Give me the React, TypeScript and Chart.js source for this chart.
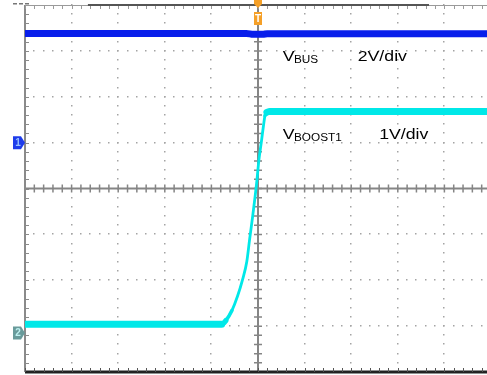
import React, { useEffect, useRef } from 'react';
import { Chart, registerables } from 'chart.js';

Chart.register(...registerables);

// Time axis: divisions relative to the trigger point (10 divisions across the screen)
const busTime = [-5, -0.25, -0.1, 0.1, 0.2, 5.2];
const busVolts = [4.76, 4.76, 4.72, 4.72, 4.75, 4.75];

const boostTime = [-5, -0.78, -0.69, -0.56, -0.44, -0.33, -0.24, -0.18, -0.11, -0.07, -0.03, 0.02, 0.07, 0.12, 0.15, 0.19, 0.27, 5.2];
const boostVolts = [0.19, 0.19, 0.27, 0.49, 0.8, 1.17, 1.56, 2.04, 2.58, 2.91, 3.26, 3.78, 4.15, 4.54, 4.74, 4.81, 4.83, 4.83];

// Channel settings (volts per division, ground marker position in divisions)
const BUS_VOLTS_PER_DIV = 2;
const BUS_OFFSET_DIV = 1;
const BOOST_VOLTS_PER_DIV = 1;
const BOOST_OFFSET_DIV = -3.15;

const X_DIVS = [-5, -4, -3, -2, -1, 0, 1, 2, 3, 4, 5];
const Y_DIVS = [-4, -3, -2, -1, 0, 1, 2, 3, 4];

const BUS_COLOR = 'rgb(8, 30, 235)';
const BOOST_COLOR = 'rgb(0, 232, 232)';
const TEXT_FONT = '"Liberation Sans", Arial, sans-serif';
const STRETCH = 1.18;

const toDiv = (times: number[], volts: number[], vpd: number, off: number) =>
  times.map((t, i) => ({ x: t, y: volts[i] / vpd + off }));

const graticule = {
  id: 'graticule',
  beforeDatasetsDraw(chart: any) {
    const { ctx, chartArea: a, scales } = chart;
    const x = scales.x;
    const y = scales.y;
    ctx.save();

    // dotted division lines, one dot every fifth of a division
    ctx.fillStyle = '#a4a4a4';
    for (const d of X_DIVS) {
      if (d === -5 || d === 0 || d === 5) continue;
      const px = Math.round(x.getPixelForValue(d));
      for (let s = -20; s <= 20; s++) {
        const py = Math.round(y.getPixelForValue(s / 5));
        ctx.fillRect(px - 1, py - 1, 1.5, 1.5);
      }
    }
    for (const d of Y_DIVS) {
      if (d === -4 || d === 0 || d === 4) continue;
      const py = Math.round(y.getPixelForValue(d));
      for (let s = -25; s <= 25; s++) {
        const px = Math.round(x.getPixelForValue(s / 5));
        ctx.fillRect(px - 1, py - 1, 1.5, 1.5);
      }
    }

    // centre cross with minor ticks
    const cx = x.getPixelForValue(0);
    const cy = y.getPixelForValue(0);
    ctx.strokeStyle = '#858585';
    ctx.lineWidth = 2;
    ctx.beginPath();
    ctx.moveTo(a.left, cy);
    ctx.lineTo(chart.width, cy);
    ctx.moveTo(cx, a.top);
    ctx.lineTo(cx, a.bottom);
    ctx.stroke();
    ctx.lineWidth = 1.5;
    ctx.beginPath();
    for (let s = -25; s <= 25; s++) {
      const px = x.getPixelForValue(s / 5);
      ctx.moveTo(px, cy - 4);
      ctx.lineTo(px, cy + 4);
    }
    for (let s = -20; s <= 20; s++) {
      const py = y.getPixelForValue(s / 5);
      ctx.moveTo(cx - 4, py);
      ctx.lineTo(cx + 4, py);
    }
    ctx.stroke();

    // left frame edge with ticks
    ctx.strokeStyle = '#8a8a8a';
    ctx.lineWidth = 2;
    ctx.beginPath();
    ctx.moveTo(a.left, a.top);
    ctx.lineTo(a.left, a.bottom);
    ctx.stroke();
    ctx.lineWidth = 1;
    ctx.beginPath();
    for (let s = -20; s <= 20; s++) {
      const py = Math.round(y.getPixelForValue(s / 5)) + 0.5;
      ctx.moveTo(a.left, py);
      ctx.lineTo(a.left + 4, py);
    }
    ctx.stroke();

    // top frame edge with ticks
    ctx.strokeStyle = '#9a9a9a';
    ctx.lineWidth = 1;
    ctx.beginPath();
    ctx.moveTo(a.left, a.top + 0.5);
    ctx.lineTo(chart.width, a.top + 0.5);
    for (let s = -25; s <= 25; s++) {
      const px = Math.round(x.getPixelForValue(s / 5)) + 0.5;
      ctx.moveTo(px, a.top);
      ctx.lineTo(px, a.top + 4);
    }
    ctx.stroke();
    // record bar
    ctx.strokeStyle = '#555';
    ctx.lineWidth = 2;
    ctx.beginPath();
    ctx.moveTo(x.getPixelForValue(-3.65), a.top);
    ctx.lineTo(x.getPixelForValue(3.67), a.top);
    ctx.stroke();
    ctx.fillStyle = '#777';
    for (let i = 0; i < 3; i++) ctx.fillRect(13 + i * 6, a.top - 2, 4, 1.5);

    // bottom frame edge with ticks
    ctx.strokeStyle = '#222';
    ctx.lineWidth = 3;
    ctx.beginPath();
    ctx.moveTo(a.left, a.bottom);
    ctx.lineTo(chart.width, a.bottom);
    ctx.stroke();
    ctx.lineWidth = 1;
    ctx.strokeStyle = '#555';
    ctx.beginPath();
    for (let s = -25; s <= 25; s++) {
      const px = Math.round(x.getPixelForValue(s / 5)) + 0.5;
      ctx.moveTo(px, a.bottom);
      ctx.lineTo(px, a.bottom - 4);
    }
    ctx.stroke();
    ctx.restore();
  },
};

function drawTag(ctx: CanvasRenderingContext2D, right: number, cy: number, fill: string, textColor: string, label: string) {
  const l = right - 12;
  ctx.fillStyle = fill;
  ctx.beginPath();
  ctx.moveTo(l, cy - 6.5);
  ctx.lineTo(right - 4, cy - 6.5);
  ctx.lineTo(right, cy);
  ctx.lineTo(right - 4, cy + 6.5);
  ctx.lineTo(l, cy + 6.5);
  ctx.closePath();
  ctx.fill();
  ctx.fillStyle = textColor;
  ctx.font = `bold 10px ${TEXT_FONT}`;
  ctx.textAlign = 'center';
  ctx.textBaseline = 'middle';
  ctx.fillText(label, l + 5, cy + 0.5);
}

function drawName(ctx: CanvasRenderingContext2D, px: number, py: number, main: string, sub: string, scaleText: string, scaleX: number) {
  ctx.fillStyle = '#000';
  ctx.textAlign = 'left';
  ctx.textBaseline = 'alphabetic';
  ctx.save();
  ctx.translate(px, py);
  ctx.scale(STRETCH, 1);
  ctx.font = `15px ${TEXT_FONT}`;
  ctx.fillText(main, 0, 0);
  const w = ctx.measureText(main).width;
  ctx.font = `10px ${TEXT_FONT}`;
  ctx.fillText(sub, w - 0.5, 2);
  ctx.restore();
  ctx.save();
  ctx.translate(scaleX, py);
  ctx.scale(STRETCH, 1);
  ctx.font = `15px ${TEXT_FONT}`;
  ctx.fillText(scaleText, 0, 0);
  ctx.restore();
}

const overlay = {
  id: 'overlay',
  afterDatasetsDraw(chart: any) {
    const { ctx, chartArea: a, scales } = chart;
    const x = scales.x;
    const y = scales.y;
    ctx.save();

    // channel ground markers
    drawTag(ctx, a.left, y.getPixelForValue(BUS_OFFSET_DIV), 'rgb(30, 60, 235)', 'rgb(150, 190, 255)', '1');
    drawTag(ctx, a.left, y.getPixelForValue(BOOST_OFFSET_DIV), 'rgb(105, 155, 155)', 'rgb(190, 240, 240)', '2');

    // trigger position marker
    const tx = x.getPixelForValue(0);
    ctx.fillStyle = 'rgb(245, 160, 40)';
    ctx.beginPath();
    ctx.moveTo(tx - 4, 0);
    ctx.lineTo(tx + 4, 0);
    ctx.lineTo(tx + 4, 4);
    ctx.lineTo(tx, 8);
    ctx.lineTo(tx - 4, 4);
    ctx.closePath();
    ctx.fill();
    ctx.fillRect(tx - 4, 12, 8, 13);
    ctx.fillStyle = '#fff';
    ctx.font = `bold 10px ${TEXT_FONT}`;
    ctx.textAlign = 'center';
    ctx.textBaseline = 'middle';
    ctx.fillText('T', tx, 19);

    // trigger level marker at the right edge
    const ly = y.getPixelForValue(0);
    ctx.fillStyle = BOOST_COLOR;
    ctx.beginPath();
    ctx.moveTo(chart.width, ly - 4);
    ctx.lineTo(chart.width - 4, ly);
    ctx.lineTo(chart.width, ly + 4);
    ctx.closePath();
    ctx.fill();

    // channel annotations
    drawName(ctx, x.getPixelForValue(0.53), y.getPixelForValue(2.79), 'V', 'BUS', '2V/div', x.getPixelForValue(2.14));
    drawName(ctx, x.getPixelForValue(0.53), y.getPixelForValue(1.07), 'V', 'BOOST1', '1V/div', x.getPixelForValue(2.6));

    ctx.restore();
  },
};

// a trace band of fixed vertical thickness looks thinner where it is steep
const bandWidth = (thick: number) => (c: any) => {
  const dx = c.p1.x - c.p0.x;
  const dy = c.p1.y - c.p0.y;
  const slope = dx === 0 ? 100 : Math.abs(dy / dx);
  return Math.max(2.8, thick / Math.sqrt(1 + slope * slope));
};

export default function App() {
  const canvasRef = useRef<HTMLCanvasElement | null>(null);

  useEffect(() => {
    const canvas = canvasRef.current;
    if (!canvas) return;
    const chart = new Chart(canvas, {
      type: 'line',
      data: {
        datasets: [
          {
            label: 'VBUS',
            data: toDiv(busTime, busVolts, BUS_VOLTS_PER_DIV, BUS_OFFSET_DIV),
            borderColor: BUS_COLOR,
            borderWidth: 7,
            pointRadius: 0,
            cubicInterpolationMode: 'monotone',
          },
          {
            label: 'VBOOST1',
            data: toDiv(boostTime, boostVolts, BOOST_VOLTS_PER_DIV, BOOST_OFFSET_DIV),
            borderColor: BOOST_COLOR,
            borderWidth: 7,
            pointRadius: 0,
            cubicInterpolationMode: 'monotone',
            borderJoinStyle: 'round',
            borderCapStyle: 'round',
            segment: { borderWidth: bandWidth(7) },
          },
        ],
      },
      options: {
        responsive: false,
        animation: false,
        devicePixelRatio: 1,
        parsing: false,
        layout: { padding: { left: 25, right: 9, top: 5, bottom: 3 } },
        scales: {
          x: { type: 'linear', min: -5, max: 5, display: false },
          y: { type: 'linear', min: -4, max: 4, display: false },
        },
        plugins: { legend: { display: false }, tooltip: { enabled: false } },
      },
      plugins: [graticule, overlay],
    } as any);
    return () => chart.destroy();
  }, []);

  return (
    <div style={{ position: 'fixed', left: 0, top: 0, width: 487, height: 375, overflow: 'hidden', background: '#fff' }}>
      <canvas ref={canvasRef} width={500} height={375} style={{ display: 'block', width: 500, height: 375 }} />
    </div>
  );
}
